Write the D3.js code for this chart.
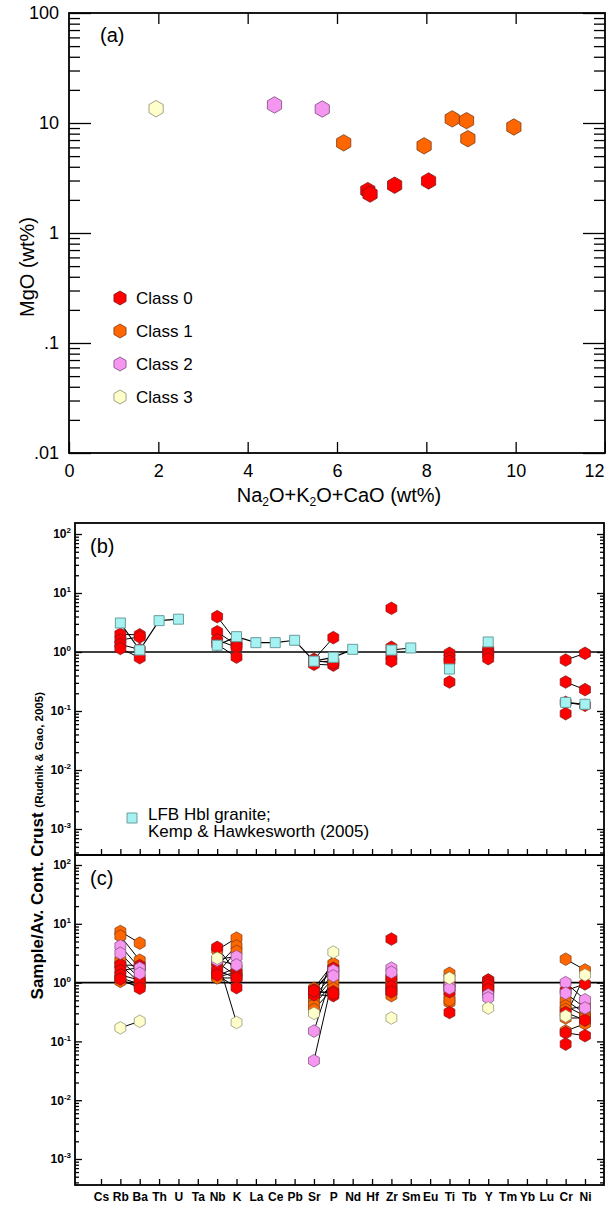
<!DOCTYPE html>
<html>
<head>
<meta charset="utf-8">
<script src="https://cdn.jsdelivr.net/npm/d3@7"></script>
<style>
  body { margin: 0; background: #fff; }
  svg { display: block; font-family: "Liberation Sans", Arial, sans-serif; }
</style>
</head>
<body>
<svg id="chart" width="606" height="1205"></svg>
<script>
// ---- data ----
const classNames = ['Class 0', 'Class 1', 'Class 2', 'Class 3'];
const classColors = ['#ff0000', '#ff6600', '#f596f0', '#ffffcc'];
const classStrokes = ['#7a1a1a', '#7a3a14', '#7a4a78', '#8a8a6a'];

// panel (a): one entry per sample
const sampleClass = [0, 0, 0, 0, 1, 1, 1, 1, 1, 1, 2, 2, 3];
const sumAlkCa = [6.69, 6.74, 7.29, 8.05, 6.15, 7.95, 8.58, 8.9, 8.93, 9.96, 4.6, 5.67, 1.95];
const mgo = [2.43, 2.26, 2.72, 2.97, 6.6, 6.2, 10.9, 10.5, 7.2, 9.2, 14.6, 13.4, 13.5];

// panels (b) and (c)
const elements = ['Cs', 'Rb', 'Ba', 'Th', 'U', 'Ta', 'Nb', 'K', 'La', 'Ce', 'Pb', 'Sr', 'P',
  'Nd', 'Hf', 'Zr', 'Sm', 'Eu', 'Ti', 'Tb', 'Y', 'Tm', 'Yb', 'Lu', 'Cr', 'Ni'];
const lfbHbl = [null, 3.1, 1.08, 3.4, 3.6, null, 1.3, 1.82, 1.44, 1.44, 1.58, 0.70, 0.81,
  1.11, null, 1.08, 1.17, null, 0.515, null, 1.48, null, null, null, 0.14, 0.13];

const measured = ['Rb', 'Ba', 'Nb', 'K', 'Sr', 'P', 'Zr', 'Ti', 'Y', 'Cr', 'Ni'];
const class0Samples = [
  [2.0, 1.95, 3.97, 1.5, 0.75, 1.75, 5.5, 0.95, 1.1, 0.73, 0.95],
  [1.6, 1.8, 2.2, 1.3, 0.68, 0.7, 1.2, 0.8, 1.0, 0.31, 0.23],
  [1.35, 1.1, 1.6, 1.2, 0.62, 0.6, 0.85, 0.7, 0.9, 0.14, 0.125],
  [1.15, 0.8, 1.35, 0.82, 0.72, 0.65, 0.7, 0.31, 0.77, 0.09, null]
];
const class1Samples = [
  [7.4, 4.7, 3.6, 5.7, 0.8, 2.1, 1.26, 1.44, 1.1, 2.5, 1.64],
  [6.2, 2.4, 1.9, 4.2, 0.72, 1.7, 1.05, 1.2, 1.0, 0.5, 0.3],
  [2.4, 1.2, 1.45, 3.4, 0.58, 1.4, 0.91, 0.95, 0.9, 0.4, 0.27],
  [2.0, 1.0, 1.3, 1.8, 0.5, 1.2, 0.78, 0.6, 0.8, 0.35, 0.4],
  [1.2, 0.95, 1.25, 1.5, 0.42, 1.0, 0.7, 0.46, 0.75, 0.25, 0.25],
  [1.05, 0.88, 1.2, 1.2, 0.35, 0.8, 0.6, 0.5, 0.7, 0.15, 0.2]
];
const class2Samples = [
  [4.2, 1.76, 2.5, 2.77, 0.15, 1.6, 1.76, 0.86, 0.62, 1.0, 0.51],
  [3.16, 1.44, 2.4, 2.0, 0.047, 1.3, 1.5, 0.8, 0.55, 0.66, 0.37]
];
const class3Samples = [
  [0.17, 0.22, 2.6, 0.21, 0.3, 3.3, 0.25, 1.19, 0.37, 0.27, 1.35]
];

// ---- helpers ----
const svg = d3.select('#chart');

// pointy-top hexagon as a d3 symbol type
const symbolHexagon = {
  draw(context, size) {
    const r = Math.sqrt(size / (1.5 * Math.sqrt(3)));
    for (let i = 0; i < 6; i++) {
      const a = Math.PI / 3 * i - Math.PI / 2;
      if (i === 0) context.moveTo(r * Math.cos(a), r * Math.sin(a));
      else context.lineTo(r * Math.cos(a), r * Math.sin(a));
    }
    context.closePath();
  }
};
const hexSize = r => 1.5 * Math.sqrt(3) * r * r;

function minorTicks(lo, hi) {
  const out = [];
  for (let e = lo; e <= hi; e++) {
    for (let m = 2; m <= 9; m++) out.push(m * Math.pow(10, e));
  }
  return out;
}

function styleAxis(g) {
  g.select('.domain').remove();
  g.selectAll('line').attr('stroke', '#000').attr('stroke-width', 1.3);
}

// ---- panel (a) ----
const aLeft = 69, aRight = 605, aTop = 13, aBottom = 453;
const xA = d3.scaleLinear().domain([0, 12]).range([aLeft, aRight]);
const yA = d3.scaleLog().domain([0.01, 100]).range([aBottom, aTop]);
const decadesA = [0.01, 0.1, 1, 10, 100];
const minorA = minorTicks(-2, 1);
const fmtA = d => d >= 1 ? String(d) : String(d).replace(/^0/, '');

const gA = svg.append('g');
gA.append('rect')
  .attr('x', aLeft).attr('y', aTop)
  .attr('width', aRight - aLeft).attr('height', aBottom - aTop)
  .attr('fill', 'none').attr('stroke', '#000').attr('stroke-width', 1.8);

gA.append('g').attr('transform', `translate(${aLeft},0)`)
  .call(d3.axisLeft(yA).tickValues(decadesA).tickFormat(fmtA).tickSize(-22).tickPadding(10))
  .call(styleAxis)
  .call(g => g.selectAll('text').attr('font-size', 18).attr('font-family', null));
gA.append('g').attr('transform', `translate(${aLeft},0)`)
  .call(d3.axisLeft(yA).tickValues(minorA).tickFormat('').tickSize(-11))
  .call(styleAxis);
gA.append('g').attr('transform', `translate(${aRight},0)`)
  .call(d3.axisRight(yA).tickValues(decadesA).tickFormat('').tickSize(-22))
  .call(styleAxis);
gA.append('g').attr('transform', `translate(${aRight},0)`)
  .call(d3.axisRight(yA).tickValues(minorA).tickFormat('').tickSize(-11))
  .call(styleAxis);
gA.append('g').attr('transform', `translate(0,${aBottom})`)
  .call(d3.axisBottom(xA).tickValues(d3.range(0, 13, 2)).tickSize(-11).tickPadding(11))
  .call(styleAxis)
  .call(g => g.selectAll('text').attr('font-size', 18).attr('font-family', null))
  // last label sits at the page edge: keep it inside
  .call(g => g.selectAll('text').filter(d => d === 12).attr('text-anchor', 'end').attr('dx', -1));
gA.append('g').attr('transform', `translate(0,${aTop})`)
  .call(d3.axisTop(xA).tickValues(d3.range(2, 11, 2)).tickFormat('').tickSize(-11))
  .call(styleAxis);

// axis titles
const xTitle = gA.append('text')
  .attr('x', 339).attr('y', 502)
  .attr('text-anchor', 'middle').attr('font-size', 20);
xTitle.append('tspan').text('Na');
xTitle.append('tspan').attr('font-size', 12).attr('dy', 4).text('2');
xTitle.append('tspan').attr('dy', -4).text('O+K');
xTitle.append('tspan').attr('font-size', 12).attr('dy', 4).text('2');
xTitle.append('tspan').attr('dy', -4).text('O+CaO (wt%)');

gA.append('text')
  .attr('transform', 'translate(34,267) rotate(-90)')
  .attr('text-anchor', 'middle').attr('font-size', 20)
  .text('MgO (wt%)');

gA.append('text').attr('x', 100).attr('y', 42).attr('font-size', 20).text('(a)');

// points
const pointsA = sumAlkCa.map((x, i) => ({ x, y: mgo[i], c: sampleClass[i] }));
gA.append('g').selectAll('path')
  .data(pointsA)
  .join('path')
  .attr('transform', d => `translate(${xA(d.x)},${yA(d.y)})`)
  .attr('d', d3.symbol(symbolHexagon, hexSize(8.2)))
  .attr('fill', d => classColors[d.c])
  .attr('stroke', d => classStrokes[d.c])
  .attr('stroke-width', 0.8);

// legend
const legA = gA.append('g').selectAll('g')
  .data(classNames)
  .join('g')
  .attr('transform', (d, i) => `translate(120,${298 + i * 33})`);
legA.append('path')
  .attr('d', d3.symbol(symbolHexagon, hexSize(7)))
  .attr('fill', (d, i) => classColors[i])
  .attr('stroke', (d, i) => classStrokes[i])
  .attr('stroke-width', 0.8);
legA.append('text')
  .attr('x', 16).attr('y', 6)
  .attr('font-size', 17)
  .text(d => d);

// ---- panels (b) and (c) ----
const sLeft = 75, sRight = 604;
const xS = d3.scalePoint().domain(elements).range([101, 585]);
const decadesS = [1e-3, 1e-2, 1e-1, 1, 10, 100];

function toSeries(values) {
  const byEl = new Map(measured.map((el, i) => [el, values[i]]));
  return elements.map(el => ({ el, v: byEl.has(el) ? byEl.get(el) : null }));
}

function spiderFrame(top, bottom, y, label, withLabels) {
  const g = svg.append('g');
  g.append('rect')
    .attr('x', sLeft).attr('y', top)
    .attr('width', sRight - sLeft).attr('height', bottom - top)
    .attr('fill', 'none').attr('stroke', '#000').attr('stroke-width', 1.8);

  const minorS = minorTicks(-4, 2).filter(v => y(v) > top && y(v) < bottom);

  g.append('g').attr('transform', `translate(${sLeft},0)`)
    .call(d3.axisLeft(y).tickValues(decadesS).tickSize(-7).tickPadding(4))
    .call(styleAxis)
    .call(ax => ax.selectAll('text').each(function (d) {
      const t = d3.select(this)
        .text(null)
        .attr('font-size', 12).attr('font-weight', 'bold').attr('font-family', null);
      t.append('tspan').text('10');
      t.append('tspan').attr('font-size', 8).attr('dy', -5).text(Math.round(Math.log10(d)));
    }));
  g.append('g').attr('transform', `translate(${sLeft},0)`)
    .call(d3.axisLeft(y).tickValues(minorS).tickFormat('').tickSize(-4))
    .call(styleAxis);
  g.append('g').attr('transform', `translate(${sRight},0)`)
    .call(d3.axisRight(y).tickValues(decadesS).tickFormat('').tickSize(-7))
    .call(styleAxis);
  g.append('g').attr('transform', `translate(${sRight},0)`)
    .call(d3.axisRight(y).tickValues(minorS).tickFormat('').tickSize(-4))
    .call(styleAxis);

  const xAxis = d3.axisBottom(xS).tickSize(-6).tickPadding(7);
  if (!withLabels) xAxis.tickFormat('');
  g.append('g').attr('transform', `translate(0,${bottom})`)
    .call(xAxis)
    .call(styleAxis)
    .call(ax => ax.selectAll('text')
      .attr('font-size', 12).attr('font-weight', 'bold').attr('font-family', null));

  // reference line at 1
  g.append('line')
    .attr('x1', sLeft).attr('x2', sRight)
    .attr('y1', y(1)).attr('y2', y(1))
    .attr('stroke', '#000').attr('stroke-width', 1.6);

  g.append('text').attr('x', 90).attr('y', top + 30).attr('font-size', 20).text(label);
  return g;
}

function drawSamples(g, y, groups) {
  const line = d3.line()
    .defined(d => d.v != null)
    .x(d => xS(d.el))
    .y(d => y(d.v));
  const all = groups.flatMap(([samples, c]) => samples.map(s => ({ series: toSeries(s), c })));
  g.append('g').selectAll('path')
    .data(all)
    .join('path')
    .attr('d', d => line(d.series))
    .attr('fill', 'none').attr('stroke', '#000').attr('stroke-width', 1);
  const pts = all.flatMap(d => d.series.filter(p => p.v != null).map(p => ({ ...p, c: d.c })));
  g.append('g').selectAll('path')
    .data(pts)
    .join('path')
    .attr('transform', d => `translate(${xS(d.el)},${y(d.v)})`)
    .attr('d', d3.symbol(symbolHexagon, hexSize(6.3)))
    .attr('fill', d => classColors[d.c])
    .attr('stroke', d => classStrokes[d.c])
    .attr('stroke-width', 0.7);
}

// panel (b)
const yB = d3.scaleLog().domain([1e-3, 1e2]).range([829, 534]);
const gB = spiderFrame(523, 855, yB, '(b)', false);
drawSamples(gB, yB, [[class0Samples, 0]]);

const lfbSeries = elements.map((el, i) => ({ el, v: lfbHbl[i] }));
gB.append('path')
  .attr('d', d3.line().defined(d => d.v != null).x(d => xS(d.el)).y(d => yB(d.v))(lfbSeries))
  .attr('fill', 'none').attr('stroke', '#000').attr('stroke-width', 1.2);
gB.append('g').selectAll('path')
  .data(lfbSeries.filter(d => d.v != null))
  .join('path')
  .attr('transform', d => `translate(${xS(d.el)},${yB(d.v)})`)
  .attr('d', d3.symbol(d3.symbolSquare, 100))
  .attr('fill', '#a4f2f2').attr('stroke', '#6a9c9c').attr('stroke-width', 1);

// legend for (b)
gB.append('path')
  .attr('transform', 'translate(132,818)')
  .attr('d', d3.symbol(d3.symbolSquare, 100))
  .attr('fill', '#a4f2f2').attr('stroke', '#6a9c9c').attr('stroke-width', 1);
const legB = gB.append('text').attr('font-size', 17);
legB.append('tspan').attr('x', 148).attr('y', 820).text('LFB Hbl granite;');
legB.append('tspan').attr('x', 148).attr('y', 837).text('Kemp & Hawkesworth (2005)');

// panel (c)
const yC = d3.scaleLog().domain([1e-3, 1e2]).range([1159, 865]);
const gC = spiderFrame(855, 1185, yC, '(c)', true);
drawSamples(gC, yC, [[class1Samples, 1], [class0Samples, 0], [class2Samples, 2], [class3Samples, 3]]);

// shared y title, its end sits level with the top of panel (b)'s data area
const yTitle = svg.append('text')
  .attr('transform', 'translate(43,692) rotate(-90)')
  .attr('text-anchor', 'end').attr('font-weight', 'bold');
yTitle.append('tspan').attr('font-size', 17).text('Sample/Av. Cont. Crust ');
yTitle.append('tspan').attr('font-size', 11.5).text('(Rudnik & Gao, 2005)');
</script>
</body>
</html>
